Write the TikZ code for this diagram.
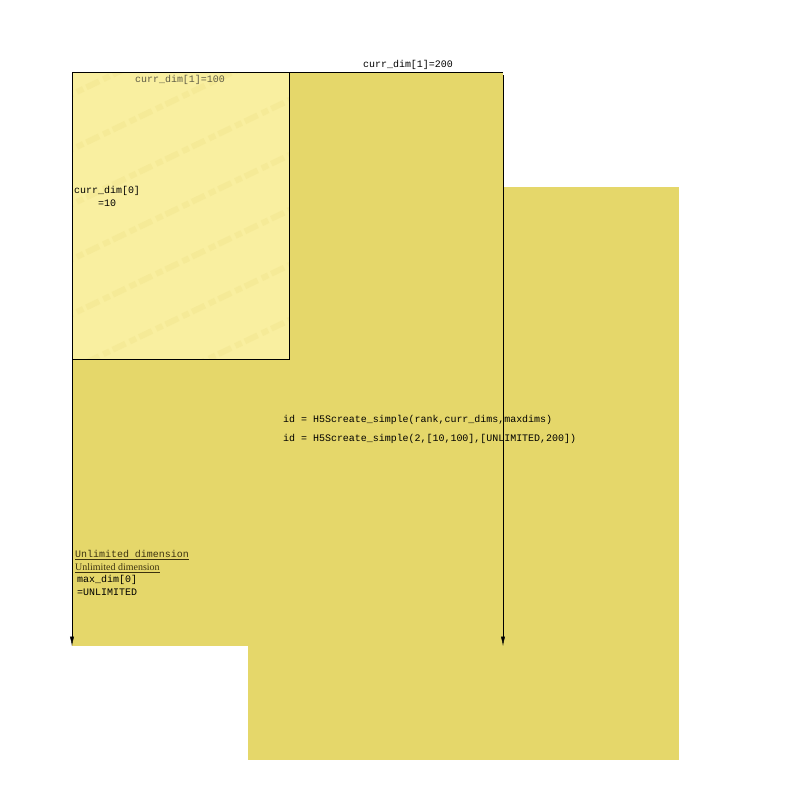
\documentclass[tikz,border=0pt]{standalone}
\usepackage{fontspec}
\setmainfont{Liberation Serif}
\setmonofont{Liberation Mono}
\usetikzlibrary{positioning,arrows.meta}
\definecolor{dimfill}{RGB}{229,215,106}
\definecolor{curfill}{RGB}{249,239,160}
\definecolor{curband}{RGB}{238,225,135}
\definecolor{labgray}{RGB}{95,92,70}
\definecolor{unlimtxt}{RGB}{60,50,15}
\tikzset{
  codelab/.style={font=\ttfamily\fontsize{8.5}{10}\selectfont,inner sep=0pt},
  seriflab/.style={font=\fontsize{8.5}{10}\selectfont,inner sep=0pt},
  dimarrow/.style={-{Latex[length=8pt,width=3.5pt]}}
}

\begin{document}
\begin{tikzpicture}[x=0.03cm,y=-0.03cm]
    \useasboundingbox (0,0) rectangle (800,800);
    % the two extents of the dataspace
    \fill[dimfill] (72,72) rectangle (503,646);
    \fill[dimfill] (248,187) rectangle (679,760);
    % current extent
    \fill[curfill] (72,72) rectangle (289,359);
    \begin{scope}
      \clip (72,72) rectangle (289,359);
      \foreach \off in {0,55,...,550}
        \draw[curband,opacity=0.35,line width=5pt,dash pattern=on 12pt off 4pt on 6pt off 3pt] (60,100+\off) -- (300,-15+\off);
    \end{scope}

    \coordinate (C0) at (72,72);
    \coordinate (C1) at (289,359);
    \coordinate (TR) at (503,72);
    \coordinate (BL) at (72,359);
    \coordinate (LE) at (72,646);
    \coordinate (RS) at (503,75);
    \coordinate (RE) at (503,646);

    \draw (C0) rectangle (C1);
    \draw (C0) -- (TR);
    \draw[dimarrow] (BL) -- (LE);
    \draw[dimarrow] (RS) -- (RE);

    \node[codelab,text=labgray] (cur1) at (180,80) {curr\_dim[1]=100};
    \node[codelab] (max1) at (408,65) {curr\_dim[1]=200};
    \node[codelab,anchor=west] (cur0) at (74,191) {curr\_dim[0]};
    \node[codelab,anchor=west] (cur0v) at (98,203) {=10};

    \node[codelab,anchor=west,text=unlimtxt] (unl) at (75,555) {\underline{Unlimited dimension}};
    \node[seriflab,anchor=west,text=unlimtxt] (unls) at (75,568) {\underline{Unlimited dimension}};
    \node[codelab,anchor=west] (max0) at (77,580) {max\_dim[0]};
    \node[codelab,anchor=west] (max0v) at (77,592) {=UNLIMITED};

    \node[codelab,anchor=west] (call) at (283,420) {id = H5Screate\_simple(rank,curr\_dims,maxdims)};
    \node[codelab,anchor=west] (callv) at (283,439) {id = H5Screate\_simple(2,[10,100],[UNLIMITED,200])};
\end{tikzpicture}
\end{document}
